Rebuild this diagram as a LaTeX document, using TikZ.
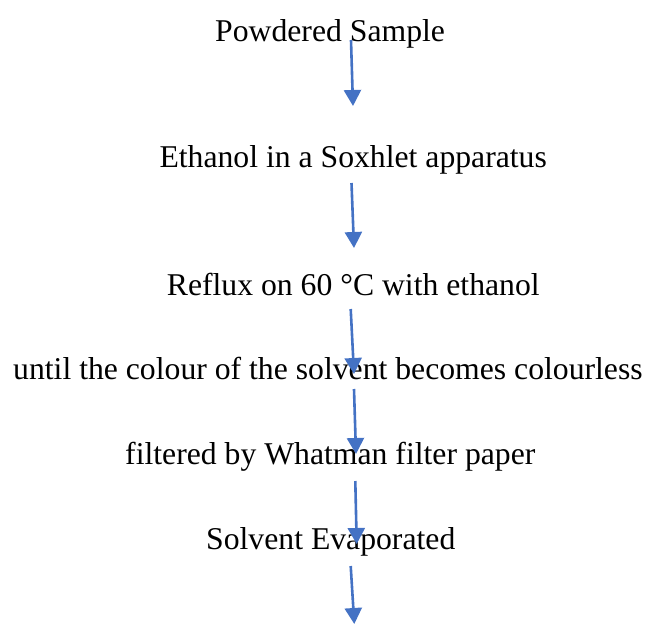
\documentclass[tikz,border=0pt]{standalone}
\usepackage{fontspec}
\setmainfont{Liberation Serif}
\usetikzlibrary{arrows.meta}
\definecolor{arrowblue}{HTML}{4472C4}
\tikzset{
	>={Triangle[width=17pt,length=16pt]},
	step text/.style={anchor=base west, inner sep=0pt, font=\fontsize{31.7}{38}\selectfont},
	flow/.style={->, draw=arrowblue, line width=2.6pt},
}
\begin{document}
\begin{tikzpicture}[x=1pt,y=-1pt]
\useasboundingbox (0,0) rectangle (649,625);
		% ends of the arrows
		\node [] (0) at (351, 40) {};
		\node [] (1) at (353, 106) {};
		\node [] (2) at (351.5, 183) {};
		\node [] (3) at (354, 248) {};
		\node [] (4) at (350.7, 309) {};
		\node [] (5) at (354, 374) {};
		\node [] (6) at (354, 389) {};
		\node [] (7) at (356, 454) {};
		\node [] (8) at (355.3, 481) {};
		\node [] (9) at (356.7, 544) {};
		\node [] (10) at (350.7, 566) {};
		\node [] (11) at (354.3, 624) {};

		% the steps
		\node [step text] (s0) at (215, 41) {Powdered Sample};
		\node [step text] (s1) at (159.3, 167) {Ethanol in a Soxhlet apparatus};
		\node [step text] (s2) at (166.7, 295) {Reflux on 60 °C with ethanol};
		\node [step text] (s3) at (13, 379) {until the colour of the solvent becomes colourless};
		\node [step text] (s4) at (125, 464) {filtered by Whatman filter paper};
		\node [step text] (s5) at (206, 549) {Solvent Evaporated};

		\draw [flow] (0.center) to (1.center);
		\draw [flow] (2.center) to (3.center);
		\draw [flow] (4.center) to (5.center);
		\draw [flow] (6.center) to (7.center);
		\draw [flow] (8.center) to (9.center);
		\draw [flow] (10.center) to (11.center);
\end{tikzpicture}
\end{document}
